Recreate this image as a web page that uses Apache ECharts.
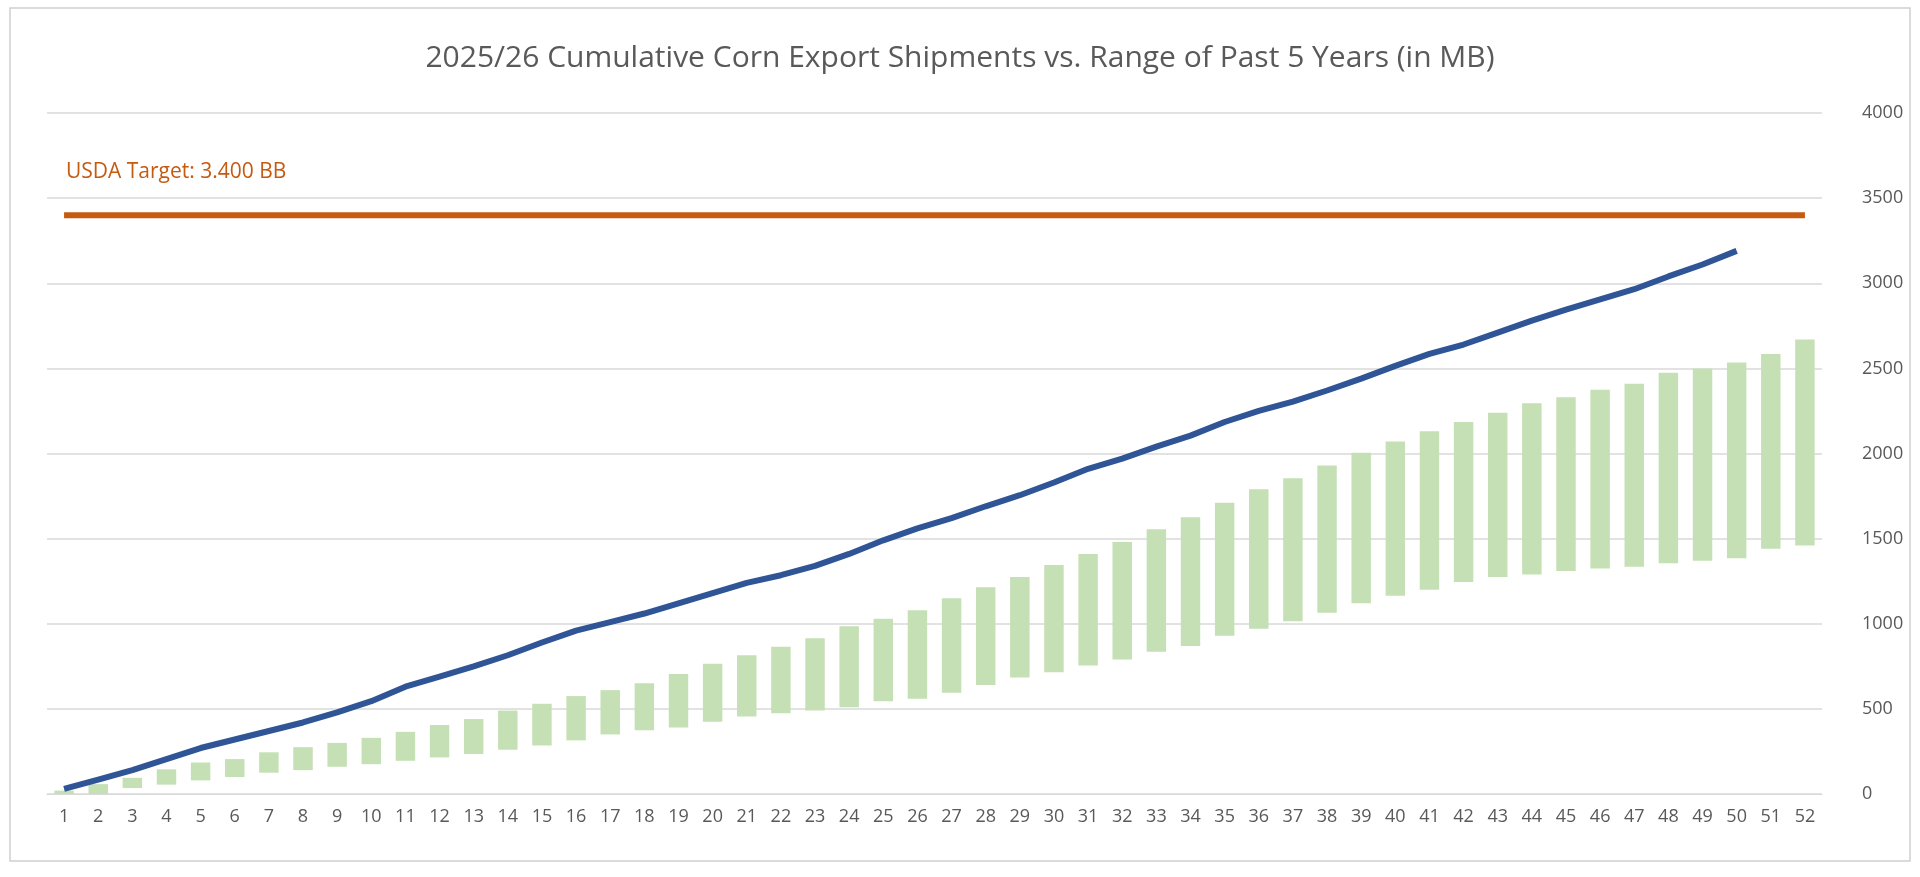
<!DOCTYPE html>
<html>
<head>
<meta charset="UTF-8">
<script src="https://cdn.jsdelivr.net/npm/echarts@6/dist/echarts.min.js"></script>
<style>
  html, body { margin: 0; padding: 0; background: #fff; }
  #chart { width: 1920px; height: 877px; }
</style>
</head>
<body>
<div id="chart"></div>
<script>
// 周次
const weeks = Array.from({ length: 52 }, (_, i) => String(i + 1));

// 2025/26 累计出口（MB）
const current = [30, 85, 140, 205, 270, 320, 370, 420, 480, 545,
  630, 690, 750, 815, 890, 960, 1010, 1060, 1120, 1180,
  1240, 1285, 1340, 1410, 1490, 1560, 1620, 1690, 1755, 1830,
  1910, 1970, 2040, 2105, 2185, 2250, 2305, 2370, 2440, 2515,
  2585, 2640, 2710, 2780, 2845, 2905, 2965, 3040, 3110, 3190];

// 过去 5 年区间下限 / 上限
const rangeLow = [0, 0, 35, 55, 80, 100, 125, 140, 160, 175,
  195, 215, 235, 260, 285, 315, 350, 375, 390, 425,
  455, 475, 490, 510, 545, 560, 595, 640, 685, 715,
  755, 790, 835, 870, 930, 970, 1015, 1065, 1120, 1165,
  1200, 1245, 1275, 1290, 1310, 1325, 1335, 1355, 1370, 1385,
  1440, 1460];
const rangeHigh = [20, 58, 95, 145, 185, 205, 245, 275, 300, 330,
  365, 405, 440, 490, 530, 575, 610, 650, 705, 765,
  815, 865, 915, 985, 1030, 1080, 1150, 1215, 1275, 1345,
  1410, 1480, 1555, 1625, 1710, 1790, 1855, 1930, 2005, 2070,
  2130, 2185, 2240, 2295, 2330, 2375, 2410, 2475, 2500, 2535,
  2585, 2670];

// USDA 目标
const usdaTarget = 3400;
const targetLabel = 'USDA Target: 3.400 BB';

const chart = echarts.init(document.getElementById('chart'));

chart.setOption({
  animation: false,
  textStyle: { fontFamily: 'Open Sans, sans-serif' },
  title: {
    text: '2025/26 Cumulative Corn Export Shipments vs. Range of Past 5 Years (in MB)',
    left: 'center',
    top: 38,
    textStyle: { fontSize: 30, fontWeight: 'normal', color: '#595959', fontFamily: 'Open Sans, sans-serif' }
  },
  graphic: [
    {
      type: 'rect',
      shape: { x: 10, y: 8, width: 1900, height: 853 },
      style: { fill: 'none', stroke: '#d0d0d0', lineWidth: 1.5 }
    },
    {
      type: 'text',
      left: 66,
      top: 162,
      style: { text: targetLabel, fill: '#c55a11', fontSize: 21, fontFamily: 'Open Sans, sans-serif' }
    }
  ],
  grid: { left: 47, right: 98, top: 113, bottom: 83 },
  xAxis: {
    type: 'category',
    data: weeks,
    axisLine: { lineStyle: { color: '#d9d9d9' } },
    axisTick: { show: false },
    axisLabel: { color: '#595959', fontSize: 18, interval: 0, margin: 14 }
  },
  yAxis: {
    type: 'value',
    position: 'right',
    min: 0,
    max: 4000,
    interval: 500,
    axisLine: { show: false },
    axisTick: { show: false },
    splitLine: { lineStyle: { color: '#d9d9d9', width: 1.5 } },
    axisLabel: { color: '#595959', fontSize: 18, margin: 40, formatter: v => String(v) }
  },
  series: [
    {
      name: 'base',
      type: 'bar',
      stack: 'range',
      data: rangeLow,
      itemStyle: { color: 'transparent' },
      barWidth: '57%',
      silent: true
    },
    {
      name: 'Range of Past 5 Years',
      type: 'bar',
      stack: 'range',
      data: rangeHigh.map((h, i) => h - rangeLow[i]),
      itemStyle: { color: '#c5e0b4' },
      barWidth: '57%'
    },
    {
      name: 'USDA Target',
      type: 'line',
      data: weeks.map(() => usdaTarget),
      symbol: 'none',
      lineStyle: { color: '#c55a11', width: 6 }
    },
    {
      name: '2025/26',
      type: 'line',
      data: current,
      symbol: 'none',
      lineStyle: { color: '#2f5597', width: 6 }
    }
  ]
});
</script>
</body>
</html>
